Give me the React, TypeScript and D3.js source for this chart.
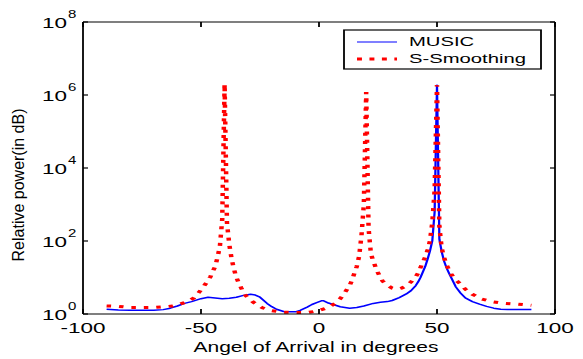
import React from "react";
import * as d3 from "d3";

const musicAngles = [-90,-85,-80,-75,-70,-66,-63,-60,-57,-54,-50,-47,-44,-41,-38,-35,-32,-29,-27,-25,-22,-20,-18,-15,-12,-10,-8,-5,-3,-1,1,2,4,6,9,13,16,19,23,26,29,31,34,37,39,41,42,43,44,45,46,47,48,49,50,51,52,53,54,55,56,57,58,60,62,65,68,71,74,77,80,85,90];
const musicLog10 = [0.13,0.11,0.10,0.10,0.10,0.12,0.16,0.22,0.29,0.34,0.42,0.46,0.44,0.42,0.43,0.46,0.51,0.54,0.52,0.46,0.29,0.2,0.13,0.07,0.06,0.06,0.1,0.19,0.26,0.31,0.36,0.36,0.3,0.26,0.2,0.16,0.18,0.22,0.29,0.32,0.34,0.37,0.45,0.55,0.64,0.78,0.88,1.0,1.15,1.3,1.5,1.72,2.0,2.8,6.27,2.05,1.7,1.45,1.27,1.13,1.0,0.87,0.74,0.57,0.44,0.34,0.27,0.21,0.16,0.13,0.12,0.12,0.12];

const smoothAngles = [-90,-85,-80,-75,-70,-65,-62,-59,-57,-55,-53,-51,-49,-47,-46,-45,-44,-43,-42,-41,-40,-39,-38,-37,-36,-35,-34,-33,-32,-31,-28,-24,-20,-15,-10,-5,-2,0,3,5,7,9,11,13,14,15,16,17,18,19,20,21,22,23,24,25,26,27,29,31,33,35,37,39,41,42,43,44,45,46,47,48,49,50,51,52,53,54,55,56,57,58,60,62,65,69,74,79,84,90];
const smoothLog10 = [0.22,0.21,0.18,0.18,0.18,0.2,0.22,0.27,0.31,0.37,0.44,0.58,0.74,0.92,1.02,1.17,1.3,1.55,1.85,2.6,6.3,2.5,1.9,1.5,1.22,1.0,0.85,0.72,0.6,0.5,0.33,0.17,0.09,0.05,0.04,0.04,0.07,0.1,0.16,0.22,0.3,0.42,0.59,0.78,0.93,1.12,1.3,1.58,2.15,3.0,6.08,2.35,1.65,1.45,1.28,1.13,1.0,0.9,0.79,0.71,0.68,0.71,0.77,0.88,1.02,1.12,1.27,1.42,1.56,1.75,2.0,2.5,3.4,6.27,2.4,1.8,1.55,1.35,1.22,1.1,1.0,0.93,0.82,0.68,0.54,0.41,0.33,0.29,0.27,0.24];

const xTicks = [-100, -50, 0, 50, 100];
const yTickExponents = [0, 2, 4, 6, 8];
const seriesNames = ["MUSIC", "S-Smoothing"];
const xLabel = "Angel of Arrival in degrees";
const yLabel = "Relative power(in dB)";

// ---- layout ----
const W = 583, H = 359;
const SX = 1.5; // horizontal stretch of the figure
const X0 = 83, X1 = 555, YB = 314, YT = 22;
const FONT = "'Liberation Sans', Arial, Helvetica, sans-serif";

export default function App() {
  const x = d3.scaleLinear().domain([-100, 100]).range([X0 / SX, X1 / SX]);
  const y = d3.scaleLog().domain([1, 1e8]).range([YB, YT]);

  const line = d3
    .line<[number, number]>()
    .x((d) => x(d[0]))
    .y((d) => y(Math.pow(10, d[1])));

  const musicData = musicAngles.map((a, i) => [a, musicLog10[i]] as [number, number]);
  const smoothData = smoothAngles.map((a, i) => [a, smoothLog10[i]] as [number, number]);

  const xl = X0 / SX, xr = X1 / SX;
  const tickLen = 5;

  return (
    <svg
      width={W}
      height={H}
      style={{ position: "absolute", left: 0, top: 0, background: "#fff" }}
      fontFamily={FONT}
    >
      <rect x={0} y={0} width={W} height={H} fill="#fff" />
      <g transform={`scale(${SX},1)`}>
        {/* series */}
        <path d={line(musicData) || ""} fill="none" stroke="#0000ff" strokeWidth={1.5} strokeLinejoin="round" />
        <path d={line(smoothData) || ""} fill="none" stroke="#ff0000" strokeWidth={3} strokeDasharray="3 5.3" strokeLinecap="butt" />

        {/* axes box */}
        <line x1={xl} x2={xr} y1={YB} y2={YB} stroke="#000" strokeWidth={1.2} />
        <line x1={xl} x2={xr} y1={YT} y2={YT} stroke="#000" strokeWidth={1.2} />
        <line x1={xl} x2={xl} y1={YT} y2={YB} stroke="#000" strokeWidth={1.2} />
        <line x1={xr} x2={xr} y1={YT} y2={YB} stroke="#000" strokeWidth={1.2} />

        {/* x ticks */}
        {xTicks.map((t) => (
          <g key={"xt" + t}>
            <line x1={x(t)} x2={x(t)} y1={YB} y2={YB - tickLen} stroke="#000" strokeWidth={1.2} />
            <line x1={x(t)} x2={x(t)} y1={YT} y2={YT + tickLen} stroke="#000" strokeWidth={1.2} />
            <text x={x(t)} y={333} fontSize={15} textAnchor="middle" fill="#000">
              {t}
            </text>
          </g>
        ))}

        {/* y ticks */}
        {yTickExponents.map((e) => {
          const yy = y(Math.pow(10, e));
          return (
            <g key={"yt" + e}>
              <line x1={xl} x2={xl + tickLen / SX} y1={yy} y2={yy} stroke="#000" strokeWidth={1.2} />
              <line x1={xr} x2={xr - tickLen / SX} y1={yy} y2={yy} stroke="#000" strokeWidth={1.2} />
              <text x={67 / SX} y={yy + 6.3} fontSize={15} textAnchor="end" fill="#000">
                10
              </text>
              <text x={68 / SX} y={yy - 3.7} fontSize={10} textAnchor="start" fill="#000">
                {e}
              </text>
            </g>
          );
        })}

        {/* x label */}
        <text x={316 / SX} y={352} fontSize={14} textAnchor="middle" fill="#000">
          {xLabel}
        </text>

        {/* legend */}
        <rect x={344 / SX} y={30} width={(541 - 344) / SX} height={39} fill="#fff" stroke="#000" strokeWidth={1.2} />
        <line x1={357 / SX} x2={397 / SX} y1={42} y2={42} stroke="#0000ff" strokeWidth={1.2} />
        <line x1={357 / SX} x2={397 / SX} y1={59} y2={59} stroke="#ff0000" strokeWidth={3} strokeDasharray="3.3 5" />
        <text x={409 / SX} y={46.5} fontSize={13.5} fill="#000">
          {seriesNames[0]}
        </text>
        <text x={409 / SX} y={63} fontSize={13.5} fill="#000">
          {seriesNames[1]}
        </text>
      </g>

      {/* y label (not stretched) */}
      <text
        transform={`translate(24,185) rotate(-90)`}
        fontSize={16}
        textAnchor="middle"
        fill="#000"
      >
        {yLabel}
      </text>
    </svg>
  );
}
